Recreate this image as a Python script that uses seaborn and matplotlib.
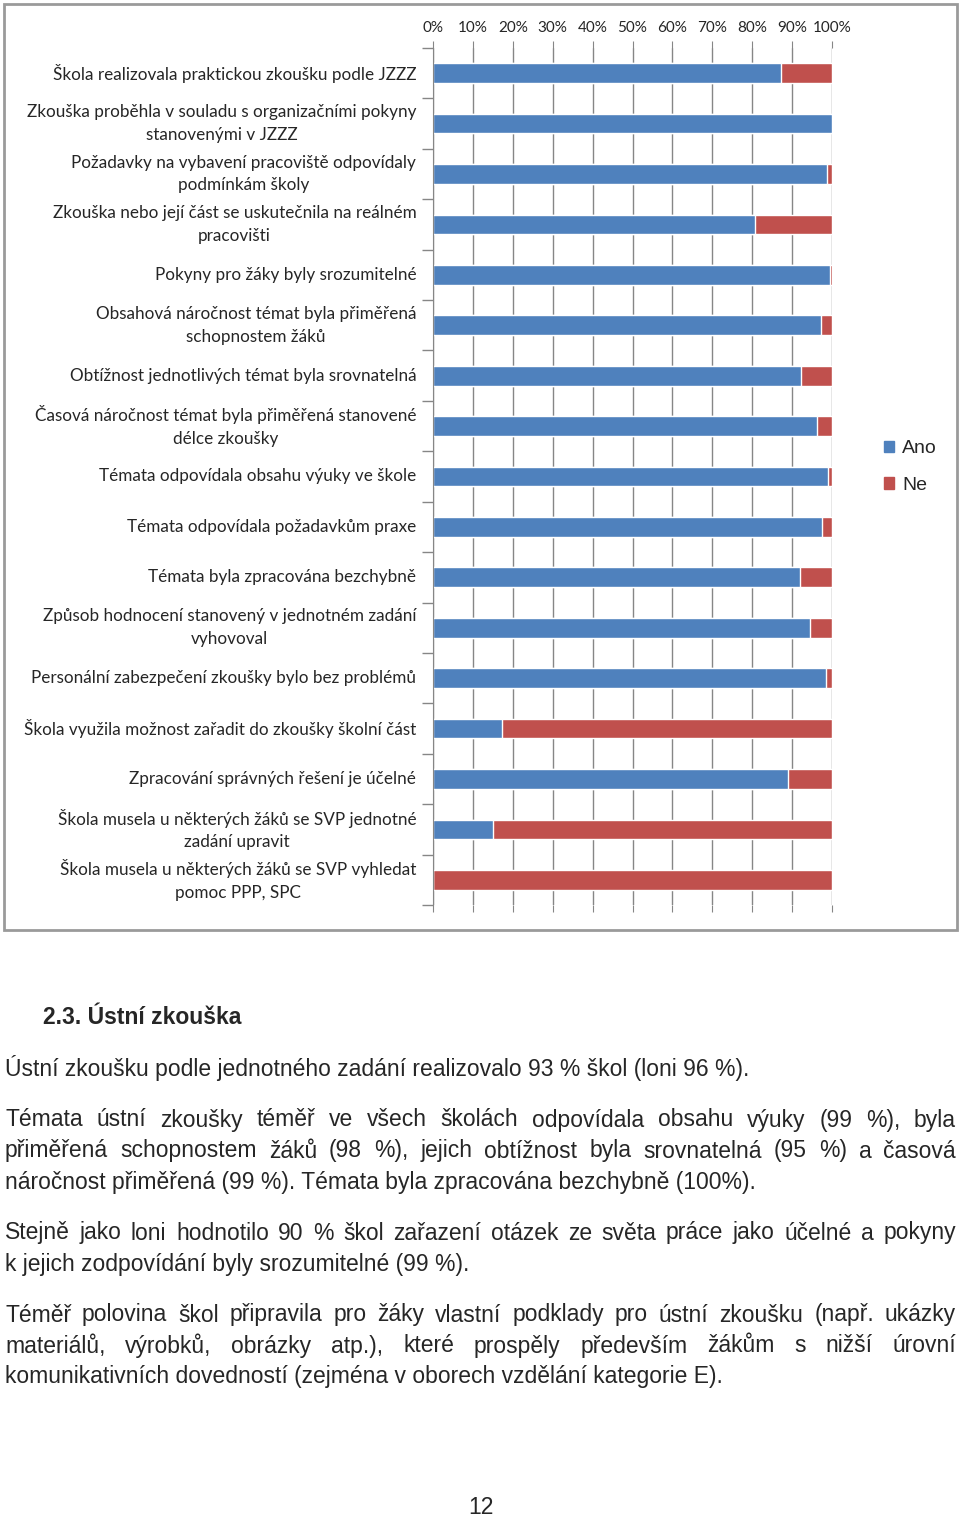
import numpy as np
import pandas as pd
import matplotlib.pyplot as plt
import seaborn as sns
from matplotlib.patches import Patch, Rectangle

# Data (% of schools answering "Ano")
categories = [
    "Škola realizovala praktickou zkoušku podle JZZZ",
    "Zkouška proběhla v souladu s organizačními pokyny\nstanovenými v JZZZ",
    "Požadavky na vybavení pracoviště odpovídaly\npodmínkám školy",
    "Zkouška nebo její část se uskutečnila na reálném\npracovišti",
    "Pokyny pro žáky byly srozumitelné",
    "Obsahová náročnost témat byla přiměřená\nschopnostem žáků",
    "Obtížnost jednotlivých témat byla srovnatelná",
    "Časová náročnost témat byla přiměřená stanovené\ndélce zkoušky",
    "Témata odpovídala obsahu výuky ve škole",
    "Témata odpovídala požadavkům praxe",
    "Témata byla zpracována bezchybně",
    "Způsob hodnocení stanovený v jednotném zadání\nvyhovoval",
    "Personální zabezpečení zkoušky bylo bez problémů",
    "Škola využila možnost zařadit do zkoušky školní část",
    "Zpracování správných řešení je účelné",
    "Škola musela u některých žáků se SVP jednotné\nzadání upravit",
    "Škola musela u některých žáků se SVP vyhledat\npomoc PPP, SPC",
]
ano = [87.3, 100, 98.7, 80.8, 99.4, 97.3, 92.2, 96.2, 98.9, 97.6, 91.9, 94.4, 98.4, 17.2, 88.9, 15.1, 0]
ne = [100 - a for a in ano]
xticks = [0, 10, 20, 30, 40, 50, 60, 70, 80, 90, 100]

df = pd.DataFrame({"Otázka": categories, "Ano": ano, "Ne": ne})
df["Celkem"] = df["Ano"] + df["Ne"]

blue = "#4F81BD"
red = "#C0504D"
grid_col = "#868686"

sns.set_style("white")
plt.rcParams["font.family"] = ["Lato", "DejaVu Sans"]

fig = plt.figure(figsize=(9.6, 15.17), dpi=100)
ax = fig.add_axes([433 / 960, 1 - 905 / 1517, (832 - 433) / 960, (905 - 48) / 1517])

# stacked bars: full bar in red, "Ano" part over it in blue
sns.barplot(data=df, x="Celkem", y="Otázka", color=red, width=0.39, saturation=1, ax=ax, orient="h")
sns.barplot(data=df, x="Ano", y="Otázka", color=blue, width=0.39, saturation=1, ax=ax, orient="h")

ax.set_xlim(0, 100)
ax.set_ylim(len(categories) - 0.5, -0.5)
ax.set_xlabel("")
ax.set_ylabel("")
ax.set_xticks(xticks)
ax.set_xticklabels([f"{t}%" for t in xticks], fontsize=11)
ax.xaxis.tick_top()
ax.tick_params(axis="x", which="both", top=True, bottom=True, labeltop=True, labelbottom=False,
               direction="out", length=5, color=grid_col, pad=4)
ax.grid(axis="x", color=grid_col, linewidth=1)
ax.set_axisbelow(True)

ax.set_yticks(range(len(categories)))
ax.set_yticklabels(categories, fontsize=12.3, multialignment="center", linespacing=1.5)
ax.set_yticks(np.arange(-0.5, len(categories), 1), minor=True)
ax.tick_params(axis="y", which="major", length=0, pad=12)
ax.tick_params(axis="y", which="minor", left=True, length=8, color=grid_col, width=1)
for lbl in ax.get_yticklabels():
    lbl.set_verticalalignment("center")

for s in ["top", "right", "bottom"]:
    ax.spines[s].set_visible(False)
ax.spines["left"].set_color(grid_col)

handles = [Patch(color=blue, label="Ano"), Patch(color=red, label="Ne")]
fig.legend(handles=handles, loc="center left", bbox_to_anchor=(866 / 960, 1 - 467 / 1517),
           frameon=False, prop={"family": "Liberation Sans", "size": 14},
           handlelength=0.55, handleheight=0.55, handletextpad=0.4, labelspacing=1.0)

# chart frame
fig.patches.append(Rectangle((4 / 960, 1 - 930 / 1517), 953 / 960, 926 / 1517,
                             transform=fig.transFigure, fill=False, edgecolor="#9a9a9a", linewidth=2))

# page text below the chart
body = {"family": "Liberation Sans", "size": 16.5}
fig.text(43 / 960, 1 - 1017 / 1517, "2.3. Ústní zkouška", fontweight="bold", va="center", **body)

renderer = fig.canvas.get_renderer()


def text_line(y, line, justify):
    yf = 1 - y / 1517
    if not justify:
        fig.text(5 / 960, yf, line, va="center", **body)
        return
    words = line.split(" ")
    widths = []
    for w in words:
        t = fig.text(0, 0, w, **body)
        widths.append(t.get_window_extent(renderer).width)
        t.remove()
    gap = (956 - 5 - sum(widths)) / (len(words) - 1)
    x = 5
    for w, wd in zip(words, widths):
        fig.text(x / 960, yf, w, va="center", **body)
        x += wd + gap


lines = [
    (1068, "Ústní zkoušku podle jednotného zadání realizovalo 93 % škol (loni 96 %).", False),
    (1120, "Témata ústní zkoušky téměř ve všech školách odpovídala obsahu výuky (99 %), byla", True),
    (1151, "přiměřená schopnostem žáků (98 %), jejich obtížnost byla srovnatelná (95 %) a časová", True),
    (1182, "náročnost přiměřená (99 %). Témata byla zpracována bezchybně (100%).", False),
    (1233, "Stejně jako loni hodnotilo 90 % škol zařazení otázek ze světa práce jako účelné a pokyny", True),
    (1264, "k jejich zodpovídání byly srozumitelné (99 %).", False),
    (1315, "Téměř polovina škol připravila pro žáky vlastní podklady pro ústní zkoušku (např. ukázky", True),
    (1346, "materiálů, výrobků, obrázky atp.), které prospěly především žákům s nižší úrovní", True),
    (1377, "komunikativních dovedností (zejména v oborech vzdělání kategorie E).", False),
]
for y, line, just in lines:
    text_line(y, line, just)

fig.text(481 / 960, 1 - 1507 / 1517, "12", ha="center", va="center", **body)

fig.savefig("out.png", dpi=100)
